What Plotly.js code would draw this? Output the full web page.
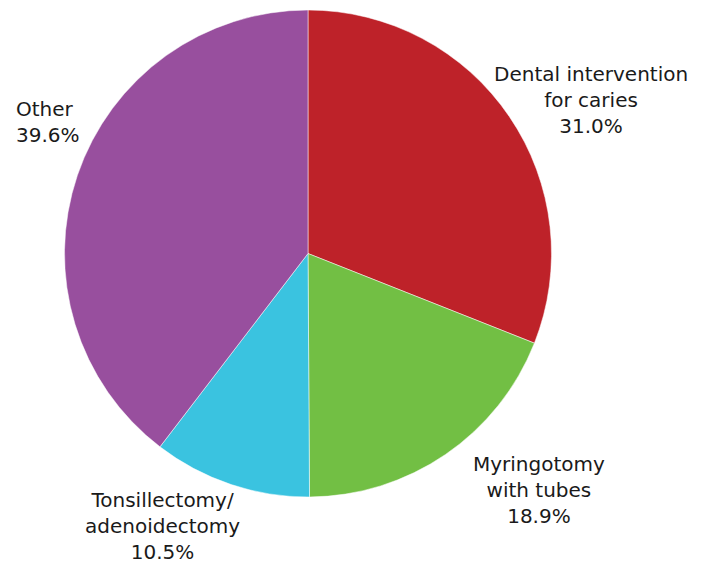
<!DOCTYPE html>
<html><head><meta charset="utf-8">
<script src="https://cdn.plot.ly/plotly-3.0.1.min.js"></script>
<style>html,body{margin:0;padding:0;background:#fff}#chart{width:709px;height:567px}</style>
</head><body><div id="chart"></div>
<script>
const categories = ["Dental intervention<br>for caries", "Myringotomy<br>with tubes", "Tonsillectomy/<br>adenoidectomy", "Other"];
const shares = [31.0, 18.9, 10.5, 39.6];
const sliceColors = ["#BE2229", "#72BF44", "#3AC3E0", "#984F9E"];

const W = 709, H = 567;
const labelSpots = [
  {px: 591, py: 100, xa: "center"},
  {px: 539, py: 490, xa: "center"},
  {px: 162, py: 526, xa: "center"},
  {px: 14, py: 122, xa: "left"}
];
const font = {family: "'DejaVu Sans', sans-serif", size: 20, color: "#1a1a1a"};

const annotations = categories.map((c, i) => ({
  text: c + "<br>" + shares[i].toFixed(1) + "%",
  x: labelSpots[i].px / W, y: 1 - labelSpots[i].py / H,
  xref: "paper", yref: "paper",
  xanchor: labelSpots[i].xa, yanchor: "middle",
  align: labelSpots[i].xa === "left" ? "left" : "center",
  showarrow: false, font: font
}));

Plotly.newPlot("chart", [{
  type: "pie",
  labels: categories,
  values: shares,
  sort: false,
  direction: "clockwise",
  rotation: 0,
  marker: {colors: sliceColors, line: {color: "#ffffff", width: 0.5}},
  textinfo: "none",
  hoverinfo: "label+percent",
  domain: {x: [64 / W, 552 / W], y: [1 - 497 / H, 1 - 10 / H]}
}], {
  width: W, height: H,
  margin: {l: 0, r: 0, t: 0, b: 0},
  showlegend: false,
  paper_bgcolor: "#ffffff",
  annotations: annotations
}, {displayModeBar: false, staticPlot: true});
</script>
</body></html>
